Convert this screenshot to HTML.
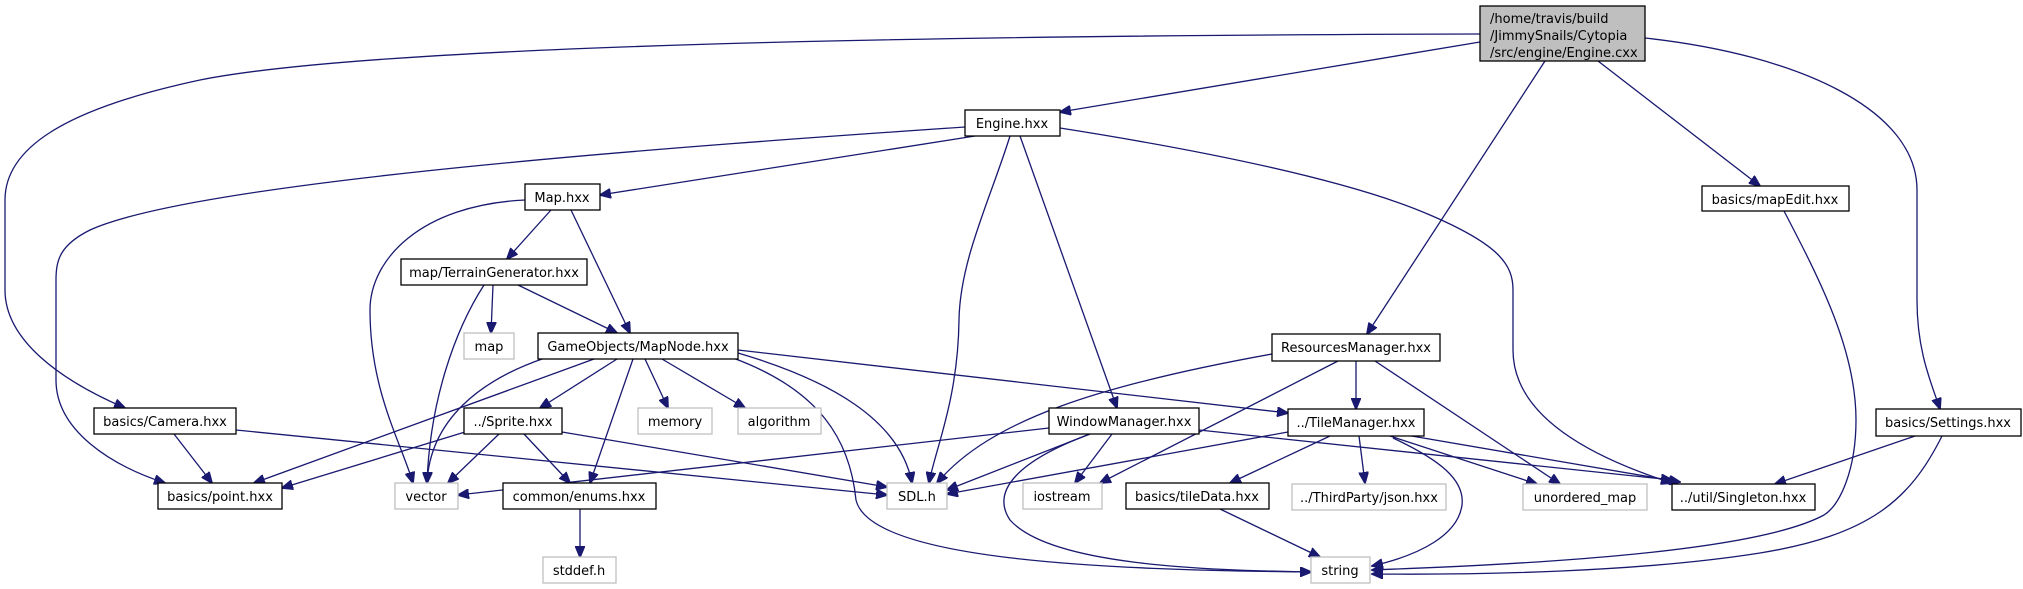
<!DOCTYPE html>
<html><head><meta charset="utf-8"><style>
html,body{margin:0;padding:0;background:#fff;}
svg{display:block;}
text{font-family:"DejaVu Sans","Liberation Sans",sans-serif;font-size:13px;fill:#000;}
.e{fill:none;stroke:#191970;stroke-width:1.3;}
.n{fill:#fff;stroke:#000;stroke-width:1.3;}
.g{fill:#fff;stroke:#bfbfbf;stroke-width:1.3;}
</style></head><body>
<svg width="2023" height="589" viewBox="0 0 2023 589" xmlns="http://www.w3.org/2000/svg">
<defs><marker id="a" markerWidth="12" markerHeight="10" refX="11" refY="5" orient="auto" markerUnits="userSpaceOnUse"><path d="M0,0 L12,5 L0,10 z" fill="#191970" stroke="#191970"/></marker></defs>
<g class="e" marker-end="url(#a)">
<path d="M1480,42 L1060,112"/>
<path d="M1480,34 C1100,35 400,40 200,80 C60,110 5,150 5,200 L5,290 C5,340 60,380 125,408"/>
<path d="M965,127 C700,145 200,180 90,230 C60,245 56,260 56,280 L56,380 C56,430 110,465 165,483"/>
<path d="M975,136 L600,195"/>
<path d="M1010,136 C990,200 960,260 959,320 C958,400 935,450 929,483"/>
<path d="M1020,136 L1117,408"/>
<path d="M1060,128 C1200,150 1350,180 1430,215 C1500,245 1513,265 1513,290 L1513,350 C1513,420 1600,460 1672,483"/>
<path d="M1545,61 L1367,334"/>
<path d="M1598,61 L1760,186"/>
<path d="M1645,38 C1800,55 1917,110 1917,190 L1917,300 C1917,350 1930,380 1940,409"/>
<path d="M1784,211 C1820,280 1856,350 1856,420 C1856,470 1840,505 1824,515 C1750,555 1500,565 1372,570"/>
<path d="M1915,436 L1775,484"/>
<path d="M1942,436 C1910,500 1870,535 1760,553 C1640,572 1480,575 1372,574"/>
<path d="M551,210 L507,259"/>
<path d="M571,210 L630,333"/>
<path d="M525,200 C420,205 370,260 370,310 C370,390 400,440 413,483"/>
<path d="M493,285 L491,333"/>
<path d="M484,285 C455,330 430,400 427,483"/>
<path d="M518,285 L617,333"/>
<path d="M594,359 L254,483"/>
<path d="M545,358 C480,380 430,420 427,483"/>
<path d="M617,359 L540,408"/>
<path d="M633,359 L590,483"/>
<path d="M645,359 L668,408"/>
<path d="M662,359 L745,408"/>
<path d="M738,353 C830,380 900,420 912,483"/>
<path d="M733,358 C820,390 850,440 856,500 C870,560 1100,570 1311,572"/>
<path d="M738,350 L1288,413"/>
<path d="M465,432 L282,488"/>
<path d="M499,434 L448,483"/>
<path d="M524,434 L570,483"/>
<path d="M562,432 L887,487"/>
<path d="M174,434 L212,483"/>
<path d="M236,430 L887,495"/>
<path d="M580,509 L580,557"/>
<path d="M1049,428 L458,495"/>
<path d="M1090,434 L947,490"/>
<path d="M1112,434 L1075,483"/>
<path d="M1090,434 C1020,460 990,490 1010,520 C1050,565 1200,570 1311,572"/>
<path d="M1199,430 L1672,480"/>
<path d="M1272,354 C1100,385 990,420 937,483"/>
<path d="M1338,361 L1100,483"/>
<path d="M1356,361 L1356,409"/>
<path d="M1375,361 L1560,484"/>
<path d="M1288,432 L947,494"/>
<path d="M1330,436 L1230,483"/>
<path d="M1359,436 L1365,483"/>
<path d="M1390,436 L1537,484"/>
<path d="M1400,434 L1680,482"/>
<path d="M1393,438 C1440,460 1465,480 1462,505 C1458,535 1420,555 1372,566"/>
<path d="M1220,509 L1320,557"/>
</g>
<rect x="1480" y="6" width="165" height="55" fill="#bfbfbf" stroke="#000" stroke-width="1.3"/>
<text x="1490" y="23">/home/travis/build</text>
<text x="1490" y="40">/JimmySnails/Cytopia</text>
<text x="1490" y="57">/src/engine/Engine.cxx</text>
<g>
<rect class="n" x="965" y="110" width="95" height="26"/><text x="1012" y="128" text-anchor="middle">Engine.hxx</text>
<rect class="n" x="525" y="184" width="75" height="26"/><text x="562" y="202" text-anchor="middle">Map.hxx</text>
<rect class="n" x="1702" y="186" width="147" height="25"/><text x="1775" y="204" text-anchor="middle">basics/mapEdit.hxx</text>
<rect class="n" x="401" y="259" width="186" height="26"/><text x="494" y="277" text-anchor="middle">map/TerrainGenerator.hxx</text>
<rect class="g" x="464" y="333" width="50" height="26"/><text x="489" y="351" text-anchor="middle">map</text>
<rect class="n" x="538" y="333" width="200" height="26"/><text x="638" y="351" text-anchor="middle">GameObjects/MapNode.hxx</text>
<rect class="n" x="1272" y="334" width="168" height="27"/><text x="1356" y="352" text-anchor="middle">ResourcesManager.hxx</text>
<rect class="n" x="94" y="408" width="142" height="26"/><text x="165" y="426" text-anchor="middle">basics/Camera.hxx</text>
<rect class="n" x="464" y="408" width="98" height="26"/><text x="513" y="426" text-anchor="middle">../Sprite.hxx</text>
<rect class="g" x="638" y="408" width="74" height="26"/><text x="675" y="426" text-anchor="middle">memory</text>
<rect class="g" x="738" y="408" width="83" height="26"/><text x="779" y="426" text-anchor="middle">algorithm</text>
<rect class="n" x="1049" y="408" width="150" height="26"/><text x="1124" y="426" text-anchor="middle">WindowManager.hxx</text>
<rect class="n" x="1288" y="409" width="136" height="27"/><text x="1356" y="427" text-anchor="middle">../TileManager.hxx</text>
<rect class="n" x="1876" y="409" width="145" height="27"/><text x="1948" y="427" text-anchor="middle">basics/Settings.hxx</text>
<rect class="n" x="158" y="483" width="124" height="26"/><text x="220" y="501" text-anchor="middle">basics/point.hxx</text>
<rect class="g" x="395" y="483" width="63" height="26"/><text x="426" y="501" text-anchor="middle">vector</text>
<rect class="n" x="503" y="483" width="153" height="26"/><text x="579" y="501" text-anchor="middle">common/enums.hxx</text>
<rect class="g" x="887" y="483" width="60" height="26"/><text x="917" y="501" text-anchor="middle">SDL.h</text>
<rect class="g" x="1023" y="483" width="79" height="26"/><text x="1062" y="501" text-anchor="middle">iostream</text>
<rect class="n" x="1126" y="483" width="143" height="26"/><text x="1197" y="501" text-anchor="middle">basics/tileData.hxx</text>
<rect class="g" x="1292" y="484" width="154" height="26"/><text x="1369" y="502" text-anchor="middle">../ThirdParty/json.hxx</text>
<rect class="g" x="1523" y="484" width="124" height="26"/><text x="1585" y="502" text-anchor="middle">unordered_map</text>
<rect class="n" x="1672" y="484" width="143" height="26"/><text x="1743" y="502" text-anchor="middle">../util/Singleton.hxx</text>
<rect class="g" x="543" y="557" width="73" height="26"/><text x="579" y="575" text-anchor="middle">stddef.h</text>
<rect class="g" x="1311" y="557" width="59" height="26"/><text x="1340" y="575" text-anchor="middle">string</text>
</g>
</svg>
</body></html>
